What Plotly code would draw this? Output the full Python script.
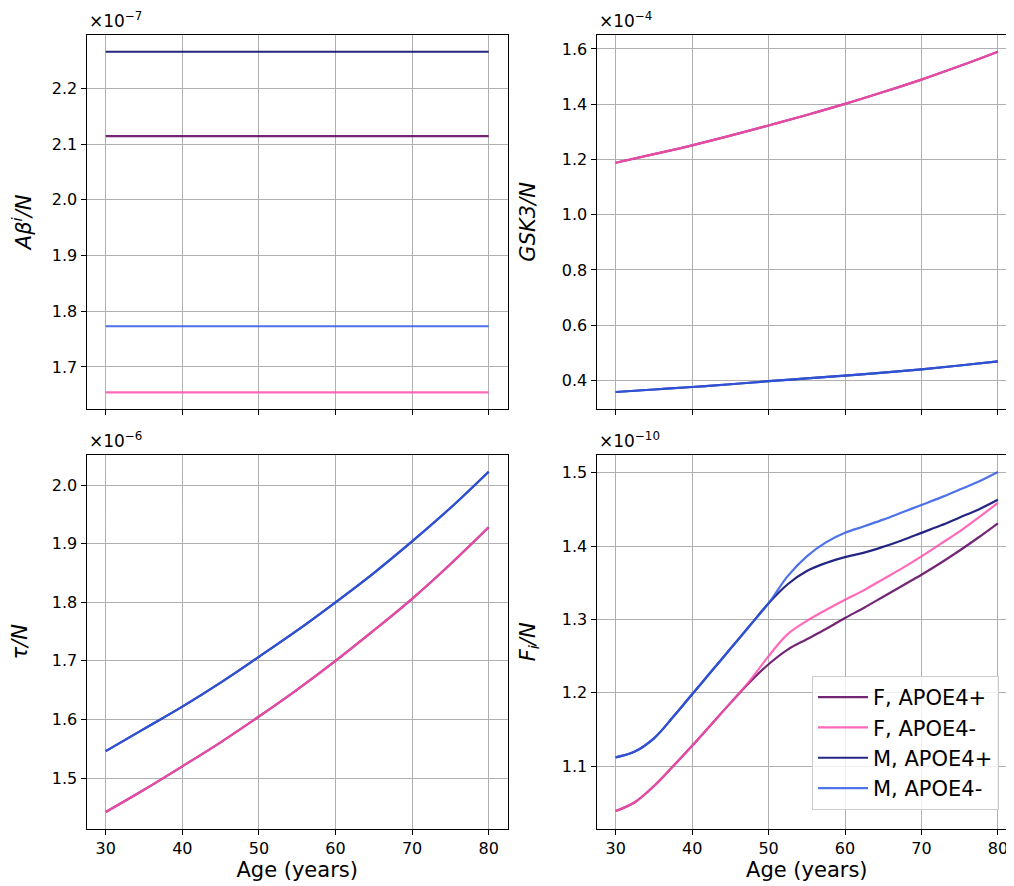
import plotly.graph_objects as go
from plotly.subplots import make_subplots

# Data (values shown in the units of each panel's offset, e.g. x1e-7)
groups = ["F, APOE4+", "F, APOE4-", "M, APOE4+", "M, APOE4-"]
colors = ["#5c005e", "#ff4fae", "#00006e", "#2f5ae6"]

ages_5 = [30, 35, 40, 45, 50, 55, 60, 65, 70, 75, 80]
ages_fi = [30, 32.5, 35, 37.5, 40, 42.5, 45, 47.5, 50, 52.5, 55, 57.5,
           60, 62.5, 65, 67.5, 70, 72.5, 75, 77.5, 80]

# A beta^i / N  (x1e-7), constant over age
abeta_F_pos = 2.1144
abeta_F_neg = 1.6545
abeta_M_pos = 2.2659
abeta_M_neg = 1.7731

# GSK3 / N  (x1e-4)
gsk3_F = [1.188, 1.219, 1.251, 1.286, 1.323, 1.361, 1.401, 1.444, 1.489, 1.538, 1.590]
gsk3_M = [0.358, 0.367, 0.376, 0.386, 0.397, 0.407, 0.4175, 0.428, 0.440, 0.454, 0.469]

# tau / N  (x1e-6)
tau_F = [1.442, 1.480, 1.520, 1.561, 1.605, 1.651, 1.700, 1.752, 1.806, 1.865, 1.928]
tau_M = [1.546, 1.584, 1.622, 1.663, 1.707, 1.752, 1.800, 1.850, 1.904, 1.961, 2.023]

# F_i / N  (x1e-10)
fi_F_pos = [1.039, 1.051, 1.073, 1.100, 1.128, 1.157, 1.186, 1.214, 1.239, 1.259, 1.273,
            1.287, 1.302, 1.316, 1.331, 1.346, 1.361, 1.377, 1.394, 1.412, 1.431]
fi_F_neg = [1.039, 1.051, 1.073, 1.100, 1.128, 1.157, 1.186, 1.216, 1.250, 1.280, 1.298,
            1.313, 1.327, 1.340, 1.355, 1.370, 1.386, 1.403, 1.420, 1.439, 1.459]
fi_M_pos = [1.112, 1.120, 1.138, 1.167, 1.198, 1.229, 1.260, 1.291, 1.322, 1.348, 1.366,
            1.377, 1.385, 1.391, 1.399, 1.408, 1.418, 1.428, 1.439, 1.450, 1.463]
fi_M_neg = [1.112, 1.120, 1.138, 1.167, 1.198, 1.229, 1.260, 1.291, 1.322, 1.359, 1.386,
            1.405, 1.418, 1.427, 1.436, 1.446, 1.456, 1.466, 1.477, 1.488, 1.501]

panels = [
    (1, 1, ages_5, [[abeta_F_pos] * 11, [abeta_F_neg] * 11, [abeta_M_pos] * 11, [abeta_M_neg] * 11]),
    (1, 2, ages_5, [gsk3_F, gsk3_F, gsk3_M, gsk3_M]),
    (2, 1, ages_5, [tau_F, tau_F, tau_M, tau_M]),
    (2, 2, ages_fi, [fi_F_pos, fi_F_neg, fi_M_pos, fi_M_neg]),
]

W, H = 1014, 886
xdom_left = [78.6 / W, 499.8 / W]
xdom_right = [588.6 / W, 1009.0 / W]
ydom_top = [1 - 401.0 / H, 1 - 26.7 / H]
ydom_bottom = [1 - 821.0 / H, 1 - 446.7 / H]

fig = make_subplots(rows=2, cols=2)

for row, col, ages, series in panels:
    for i, ys in enumerate(series):
        fig.add_trace(
            go.Scatter(
                x=ages, y=ys, mode="lines",
                line=dict(color=colors[i], width=2.2, shape="spline", smoothing=1.0),
                opacity=0.85,
                name=groups[i],
                legendgroup=groups[i],
                showlegend=(row == 2 and col == 2),
            ),
            row=row, col=col,
        )

font_main = "DejaVu Sans, Arial, sans-serif"
axis_common = dict(
    showline=True, mirror=True, linecolor="black", linewidth=1.2,
    ticks="outside", ticklen=5, tickwidth=1.1, tickcolor="black",
    showgrid=True, gridcolor="#b0b0b0", gridwidth=1, zeroline=False,
    tickfont=dict(family=font_main, size=16, color="black"),
    automargin=False,
)

xcfg = {
    "xaxis": xdom_left, "xaxis2": xdom_right,
    "xaxis3": xdom_left, "xaxis4": xdom_right,
}
for name, dom in xcfg.items():
    bottom = name in ("xaxis3", "xaxis4")
    fig.update_layout({name: dict(
        axis_common, domain=dom, range=[27.5, 82.5],
        tickvals=[30, 40, 50, 60, 70, 80],
        showticklabels=bottom,
        title=dict(text="Age (years)" if bottom else "",
                   font=dict(family=font_main, size=21, color="black"), standoff=4),
    )})

ycfg = [
    ("yaxis", ydom_top, [1.6245, 2.2965], [1.7, 1.8, 1.9, 2.0, 2.1, 2.2], "<i>Aβ<sup>i</sup>/N</i>"),
    ("yaxis2", ydom_top, [0.2964, 1.6516], [0.4, 0.6, 0.8, 1.0, 1.2, 1.4, 1.6], "<i>GSK3/N</i>"),
    ("yaxis3", ydom_bottom, [1.413, 2.052], [1.5, 1.6, 1.7, 1.8, 1.9, 2.0], "<i>τ/N</i>"),
    ("yaxis4", ydom_bottom, [1.0145, 1.5245], [1.1, 1.2, 1.3, 1.4, 1.5], "<i>F<sub>i</sub>/N</i>"),
]
for name, dom, rng, ticks, label in ycfg:
    fig.update_layout({name: dict(
        axis_common, domain=dom, range=rng, tickvals=ticks, tickformat=".1f",
        title=dict(text=label, font=dict(family=font_main, size=21, color="black"), standoff=20),
    )})

# Offset (scientific multiplier) labels above each panel
offsets = [
    (xdom_left[0], ydom_top[1], "×10<sup>−7</sup>"),
    (xdom_right[0], ydom_top[1], "×10<sup>−4</sup>"),
    (xdom_left[0], ydom_bottom[1], "×10<sup>−6</sup>"),
    (xdom_right[0], ydom_bottom[1], "×10<sup>−10</sup>"),
]
for x0, y0, txt in offsets:
    fig.add_annotation(
        x=x0, y=y0, xref="paper", yref="paper", text=txt, showarrow=False,
        xanchor="left", yanchor="bottom", yshift=2,
        font=dict(family=font_main, size=17, color="black"),
    )

fig.update_layout(
    width=W, height=H,
    margin=dict(l=0, r=0, t=0, b=0),
    paper_bgcolor="white", plot_bgcolor="white",
    legend=dict(
        x=991.0 / W, y=1 - 668.0 / H, xanchor="right", yanchor="top",
        bgcolor="rgba(255,255,255,0.8)", bordercolor="#cccccc", borderwidth=1,
        font=dict(family=font_main, size=21, color="black"),
        traceorder="normal", itemwidth=50,
    ),
)

fig.write_html("out.html")
